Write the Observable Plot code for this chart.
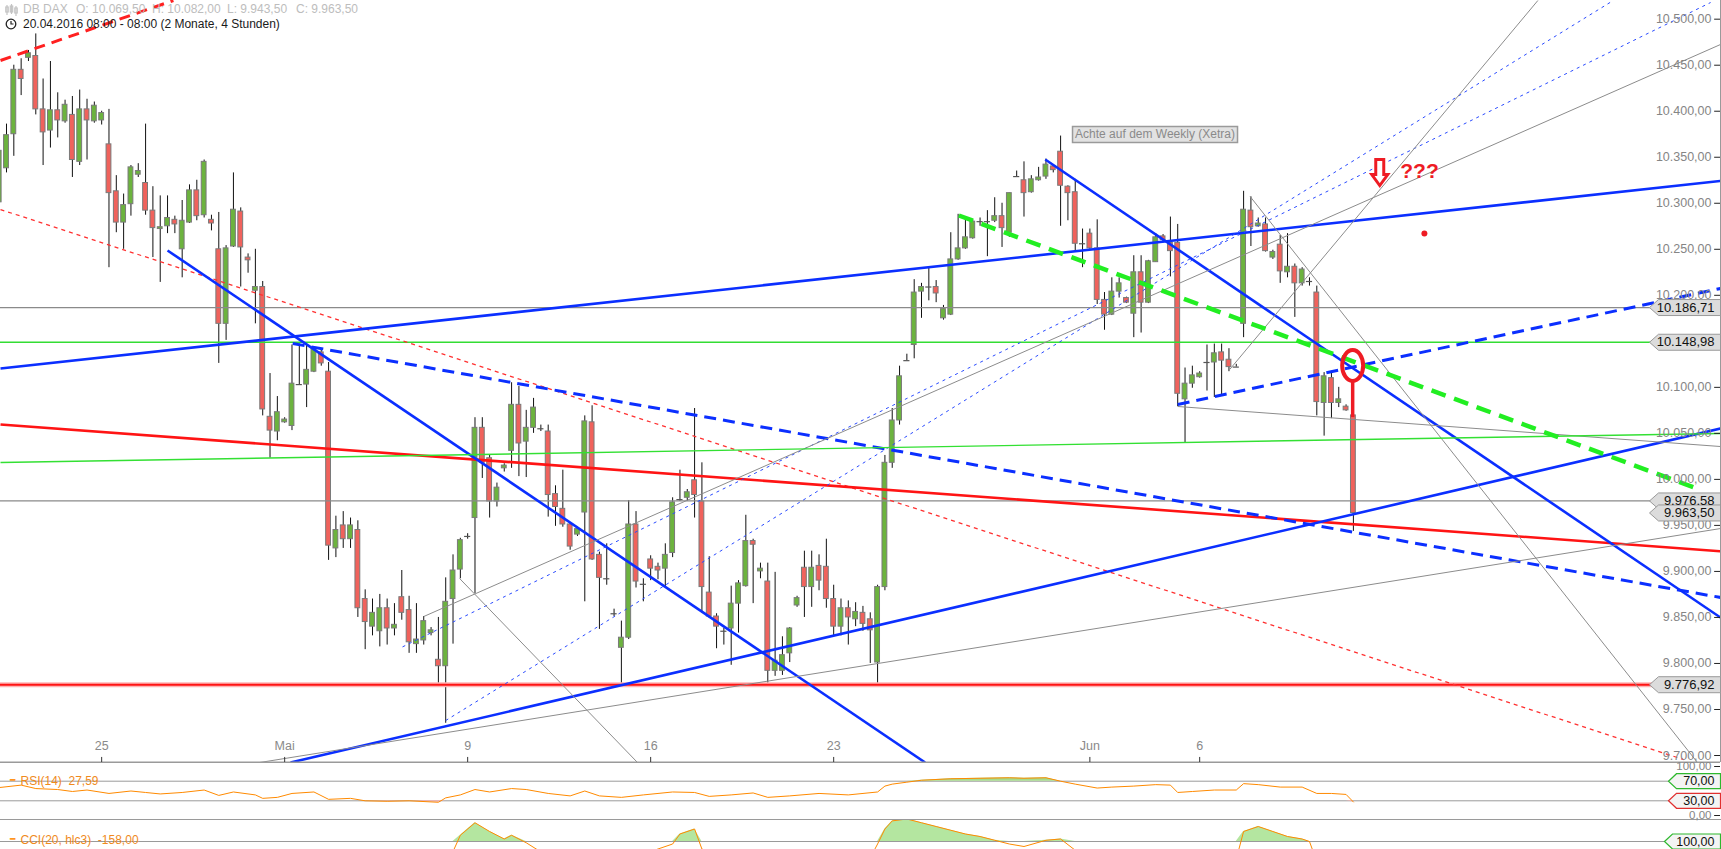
<!DOCTYPE html>
<html><head><meta charset="utf-8">
<script src="https://cdn.jsdelivr.net/npm/d3@7"></script>
<script src="https://cdn.jsdelivr.net/npm/@observablehq/plot@0.6"></script>
<style>
html,body{margin:0;padding:0;background:#fff;}
#wrap{position:relative;width:1721px;height:849px;overflow:hidden;background:#fff;font-family:Arial,"Liberation Sans",sans-serif;}
#wrap svg{display:block;}
#rsi{border-bottom:1px solid #9a9a9a;}
.hd{position:absolute;font-size:12px;white-space:pre;line-height:14px;}
.g{color:#bdbdbd;}
.k{color:#1a1a1a;}
</style></head><body>
<div id="wrap">
  <div id="main"></div>
  <div id="rsi"></div>
  <div id="cci"></div>
  <svg style="position:absolute;left:5px;top:4px" width="13" height="12"><g stroke="#c4c4c4" stroke-width="1.2" fill="none"><line x1="2" y1="1" x2="2" y2="11"/><rect x="0.8" y="3" width="2.4" height="5"/><line x1="6.5" y1="0" x2="6.5" y2="10"/><rect x="5.3" y="2" width="2.4" height="6"/><line x1="11" y1="2" x2="11" y2="12"/><rect x="9.8" y="4" width="2.4" height="5"/></g></svg>
  <div class="hd g" style="left:23px;top:2px">DB DAX</div>
  <div class="hd g" style="left:76px;top:2px">O: 10.069,50</div>
  <div class="hd g" style="left:152px;top:2px">H: 10.082,00</div>
  <div class="hd g" style="left:227px;top:2px">L: 9.943,50</div>
  <div class="hd g" style="left:296px;top:2px">C: 9.963,50</div>
  <svg style="position:absolute;left:5px;top:18px" width="12" height="12"><circle cx="6" cy="6" r="4.8" fill="none" stroke="#222" stroke-width="1.3"/><path d="M6 3 V6 H8.5" fill="none" stroke="#222" stroke-width="1.2"/></svg>
  <div class="hd k" style="left:23px;top:17px">20.04.2016 08:00 - 08:00 (2 Monate, 4 Stunden)</div>
</div>
<script>
// ---------------- DATA ----------------
// candle index k = 0..185 (4h candles, 5 per trading day)
const candleOpen = [10301,10338,10375,10445,10458,10460,10402,10379,10401,10389,10396,10345,10402,10389,10390,10364,10313,10279,10299,10331,10322,10292,10272,10275,10282,10250,10279,10314,10287,10282,10250,10169,10253,10291,10241,10205,10209,10068,10052,10062,10058,10103,10103,10117,10138,10117,
9925,9950,9935,9945,9870,9840,9835,9860,9838,
9872,9858,9821,9825,9833,9804,9797,9870,9902,9938,9958,10056,10023,9976,10012,10031,10081,10041,10056,10055,10052,9984,9968,9951,9940,9964,10062,9918,9892,9854,9817,9828,9951,9886,9913,9905,9903,9920,9978,9980,9999,9976,9877,9851,9835,9838,9865,9884,9933,9900,9889,9792,9792,9811,9863,9904,9883,9906,
9905,9870,9840,9860,9848,9855,9848,
9801,9883,10018,10064,10129,10146,10204,10209,10209,10175,10179,10239,10251,10262,10280,10280,10281,10286,10268,10329,10325,10312,10325,10329,10340,10356,10318,10312,10256,10267,10251,10195,10179,10204,10197,10180,10225,10192,10236,10264,10257,10257,10087,10104,10111,10127,10127,10138,10130,10122,10169,10292,10275,10277,10241,10255,10225,10231,10213,10215,10203,10083,10110,10083,10079,10069.5];
const candleHigh = [10371,10386,10450,10457,10466,10484,10435,10454,10420,10412,10416,10423,10413,10410,10400,10402,10330,10310,10341,10343,10386,10318,10308,10308,10286,10303,10320,10325,10347,10287,10290,10254,10333,10295,10245,10250,10215,10115,10090,10067,10146,10147,10147,10143,10140,10127,
9960,9965,9958,9955,9880,9870,9875,9870,9865,
9901,9873,9865,9851,9839,9850,9893,9918,9936,9941,10067,10067,10027,9996,10017,10105,10101,10075,10088,10059,10059,9993,10010,9952,9948,10069,10080,9921,9930,9859,9846,9977,9965,9892,9917,9909,9930,9980,10010,9989,10077,10018,9916,9854,9838,9884,9890,9961,9935,9909,9909,9899,9829,9839,9873,9922,9922,9918,
9935,9885,9870,9868,9866,9862,9855,
9885,10026,10077,10123,10136,10217,10213,10231,10216,10189,10268,10288,10284,10282,10284,10292,10306,10300,10311,10335,10345,10330,10339,10348,10342,10373,10319,10326,10272,10272,10282,10203,10219,10219,10198,10243,10243,10238,10267,10266,10285,10277,10121,10123,10117,10146,10147,10147,10142,10125,10313,10307,10284,10284,10249,10265,10267,10234,10230,10219,10210,10116,10117,10100,10081,10082];
const candleLow = [10279,10333,10351,10417,10454,10396,10341,10360,10371,10387,10328,10341,10347,10387,10385,10230,10268,10250,10286,10328,10287,10241,10214,10267,10267,10219,10278,10281,10284,10270,10126,10151,10252,10209,10224,10169,10069,10023,10042,10061,10053,10102,10078,10116,10123,9912,
9915,9925,9925,9850,9815,9830,9818,9820,9830,
9847,9811,9811,9820,9830,9775,9735,9821,9892,9935,9876,10001,9958,9970,10008,10012,10003,10002,10050,10052,9959,9949,9948,9923,9938,9867,9912,9837,9885,9851,9775,9826,9882,9867,9890,9891,9882,9915,9976,9976,9958,9855,9849,9816,9820,9798,9833,9883,9865,9892,9775,9786,9787,9801,9861,9850,9861,9879,
9860,9830,9830,9820,9840,9835,9800,
9774,9879,10012,10059,10129,10131,10175,10194,10192,10173,10178,10238,10250,10261,10275,10242,10279,10252,10263,10328,10285,10311,10324,10326,10333,10275,10281,10247,10230,10250,10190,10162,10178,10197,10191,10154,10159,10191,10236,10257,10220,10079,10039,10099,10110,10096,10089,10092,10117,10122,10154,10253,10274,10247,10239,10213,10219,10176,10210,10210,10069,10047,10066,10078,10074,9943.5];
const candleClose = [10357,10374,10445,10435,10463,10402,10377,10401,10390,10407,10347,10402,10390,10406,10398,10311,10279,10298,10339,10335,10292,10273,10274,10284,10277,10281,10314,10286,10345,10278,10169,10251,10293,10252,10238,10209,10076,10053,10073,10065,10104,10103,10119,10142,10126,9928,
9945,9935,9950,9860,9845,9855,9860,9838,9842,
9855,9823,9826,9846,9836,9797,9867,9901,9934,9938,10056,10018,9976,9991,10015,10081,10039,10056,10078,10055,9983,9970,9951,9927,9946,10063,9913,9893,9892,9854,9828,9951,9889,9886,9903,9901,9918,9975,9978,9986,9983,9883,9851,9840,9835,9865,9887,9933,9929,9903,9792,9803,9809,9838,9871,9883,9904,9890,
9870,9840,9860,9850,9856,9843,9836,
9883,10018,10064,10112,10129,10203,10209,10209,10202,10185,10239,10251,10263,10280,10280,10280,10286,10273,10311,10329,10311,10326,10328,10342,10336,10319,10311,10256,10256,10251,10195,10179,10204,10213,10192,10225,10192,10237,10263,10260,10248,10093,10104,10113,10115,10127,10137,10129,10122,10122,10293,10274,10278,10248,10247,10226,10231,10213,10228,10215,10084,10112,10083,10087,10075,9963.5];

const yTickValues = d3.range(9700, 10501, 50);
const xTickIndex  = [14, 39, 64, 89, 114, 149, 164];
const xTickLabels = ["25", "Mai", "9", "16", "23", "Jun", "6"];

const hGreyLevels  = [10186.71, 9976.58];
const hGreenLevels = [10148.98];
const hRedLevels   = [9776.92];

const tagValues = [10186.71, 10148.98, 9976.58, 9963.50, 9776.92];
const tagLabels = ["10.186,71", "10.148,98", "9.976.58", "9.963,50", "9.776,92"];

// trendlines: anchor points in (candle index, price)
const trendlines = [
  {style:"redDashThick", k1:0.18,  p1:10455.1, k2:23.8,   p2:10520.3},
  {style:"redDotted",    k1:0.18,  p1:10293.2, k2:230.1,  p2:9695.6},
  {style:"greenThin",    k1:0.18,  p1:10018.3, k2:235.15, p2:10049.9},
  {style:"redSolid",     k1:0.18,  p1:10059.6, k2:235.15, p2:9921.9},
  {style:"blueSolid",    k1:0.18,  p1:10120.5, k2:235.15, p2:10324.3},
  {style:"blueSolid",    k1:23.0,  p1:10248.7, k2:126.5,  p2:9692.4},
  {style:"blueDash",     k1:40.1,  p1:10147.6, k2:235.15, p2:9871.7},
  {style:"blueSolid",    k1:39.8,  p1:9692.4,  k2:235.15, p2:10055.3},
  {style:"grey",         k1:35.6,  p1:9692.4,  k2:235.15, p2:9946.6},
  {style:"grey",         k1:58.0,  p1:9851.0,  k2:235.15, p2:10472.5},
  {style:"blueDot",      k1:55.1,  p1:9818.0,  k2:233.8,  p2:10518.1},
  {style:"blueDot",      k1:61.0,  p1:9738.0,  k2:220.5,  p2:10520.3},
  {style:"grey",         k1:168.1, p1:10119.4, k2:210.2,  p2:10520.3},
  {style:"grey",         k1:170.9, p1:10307.3, k2:232.0,  p2:9692.4},
  {style:"grey",         k1:62.9,  p1:9892.3,  k2:87.2,   p2:9692.4},
  {style:"grey",         k1:161.0, p1:10079.2, k2:235.15, p2:10035.7},
  {style:"blueDash",     k1:161.0, p1:10081.4, k2:235.15, p2:10207.4},
  {style:"blueSolid",    k1:142.9, p1:10347.5, k2:235.15, p2:9849.9},
  {style:"greenDash",    k1:131.1, p1:10286.7, k2:231.9,  p2:9990.1}
];

// annotations (anchored in candle index / price)
const noteBox   = [{k:157.9, p:10374.7, text:"Achte auf dem Weekly (Xetra)"}];
const ringMark  = [{k:184.9, p:10123.7}];
const ringStem  = [{k:184.9, p1:10106.3, p2:10067.2}];
const arrowMark = [{k:188.6, p:10333.4}];
const qMark     = [{k:191.4, p:10334.5, text:"???"}];
const redDot    = [{k:194.7, p:10267.1}];

// RSI(14)
const rsiK = [0,3,5,8,10,12,15,18,20,22,25,28,30,32,35,36,38,40,43,45,48,50,53,56,60,61,63,65,67,70,72,75,78,80,82,85,88,92,95,97,100,103,105,108,112,116,120,121,122,124,126,130,134,138,140,143,145,147,150,152,155,158,160,161,163,166,169,170,172,175,178,180,182,184,185];
const rsiV = [57,62,55,53,49,52,45,50,47,44,47,52,41,48,42,35,37,45,48,33,35,30,29,30,27,36,42,53,48,55,53,45,40,50,40,37,42,48,47,39,42,46,37,40,45,42,48,60,64,68,72,75,76,77,76,77,70,64,56,58,60,63,62,47,49,52,52,65,63,58,58,45,45,43,27.59];

// CCI(20, hlc3)
const cciK = [0,3,5,10,15,20,25,30,35,40,45,50,55,60,62,63,65,67,69,70,72,75,80,85,88,92,93,95,96,100,105,110,115,119,120,121,122,124,126,128,130,132,134,136,138,140,143,145,147,150,155,160,161,165,169,170,172,174,176,178,179,180,185];
const cciV = [-20,10,-30,-60,-110,-80,-70,-140,-120,-80,-170,-190,-160,-110,20,150,250,180,120,150,90,-20,-10,-60,0,80,160,200,40,-80,-100,-20,-40,-30,80,200,265,280,250,220,190,160,140,110,80,60,110,120,30,-50,-20,0,-140,-80,-40,180,220,180,140,120,100,-60,-158];

// ---------------- BUILD ----------------
const candles = candleOpen.map((o, i) => ({k: i, o, h: candleHigh[i], l: candleLow[i], c: candleClose[i]}));
const upC = candles.filter(d => d.c - d.o >= 1.5);
const dnC = candles.filter(d => d.o - d.c >= 1.5);
const doji = candles.filter(d => Math.abs(d.c - d.o) < 1.5);
const xTicks = xTickIndex.map((k, i) => ({k, label: xTickLabels[i]}));
const tags = tagValues.map((v, i) => ({v, label: tagLabels[i]}));
const rsiData = rsiK.map((k, i) => ({k, v: rsiV[i]}));
const cciData = cciK.map((k, i) => ({k, v: cciV[i]}));

const fmtDE = d3.formatLocale({decimal: ",", thousands: ".", grouping: [3], currency: ["", "€"]}).format(",.2f");

const kL = 0.18, kR = 235.15;        // x scale domain (candle index)
const pBot = 9692.4, pTop = 10520.3; // y scale domain (price)

const styles = {
  redDashThick: {stroke: "#ff2020", strokeWidth: 3, strokeDasharray: "11,7"},
  redDotted:    {stroke: "#ff3030", strokeWidth: 1.3, strokeDasharray: "4,4"},
  redSolid:     {stroke: "#ff1414", strokeWidth: 2.6},
  blueSolid:    {stroke: "#0b2fff", strokeWidth: 2.6},
  blueDash:     {stroke: "#0b2fff", strokeWidth: 3, strokeDasharray: "12,7"},
  blueDot:      {stroke: "#2a4bff", strokeWidth: 1, strokeDasharray: "3,4"},
  grey:         {stroke: "#8c8c8c", strokeWidth: 1},
  greenThin:    {stroke: "#33e033", strokeWidth: 1.4},
  greenDash:    {stroke: "#22ee22", strokeWidth: 4.5, strokeDasharray: "15,9"}
};
const trendMarks = Object.keys(styles).map(s =>
  Plot.link(trendlines.filter(d => d.style === s), {x1: "k1", y1: "p1", x2: "k2", y2: "p2", clip: true, ...styles[s]})
);

function tagSym(w, h, p) {
  return {draw(ctx) { ctx.moveTo(-w, 0); ctx.lineTo(-w + p, -h / 2); ctx.lineTo(0, -h / 2); ctx.lineTo(0, h / 2); ctx.lineTo(-w + p, h / 2); ctx.closePath(); }};
}
function boxSym(w, h) {
  return {draw(ctx) { ctx.moveTo(-w / 2, -h / 2); ctx.lineTo(w / 2, -h / 2); ctx.lineTo(w / 2, h / 2); ctx.lineTo(-w / 2, h / 2); ctx.closePath(); }};
}
function ellSym(rx, ry) {
  const c = 0.5523;
  return {draw(ctx) {
    ctx.moveTo(rx, 0);
    ctx.bezierCurveTo(rx, ry * c, rx * c, ry, 0, ry);
    ctx.bezierCurveTo(-rx * c, ry, -rx, ry * c, -rx, 0);
    ctx.bezierCurveTo(-rx, -ry * c, -rx * c, -ry, 0, -ry);
    ctx.bezierCurveTo(rx * c, -ry, rx, -ry * c, rx, 0);
    ctx.closePath();
  }};
}
const arrowSym = {draw(ctx) {
  ctx.moveTo(-4, -13); ctx.lineTo(4, -13); ctx.lineTo(4, 2); ctx.lineTo(8, 2);
  ctx.lineTo(0, 13); ctx.lineTo(-8, 2); ctx.lineTo(-4, 2); ctx.closePath();
}};

const font = "Arial, 'Liberation Sans', sans-serif";

const main = Plot.plot({
  width: 1721, height: 763,
  marginLeft: 0, marginRight: 1, marginTop: 0, marginBottom: 1,
  x: {type: "linear", domain: [kL, kR], axis: null},
  y: {type: "linear", domain: [pBot, pTop], axis: null},
  style: {fontFamily: font, background: "transparent", overflow: "hidden"},
  marks: [
    // candles
    Plot.ruleX(candles, {x: "k", y1: "l", y2: "h", stroke: "#111", strokeWidth: 1}),
    Plot.rect(upC, {x1: d => d.k - 0.33, x2: d => d.k + 0.33, y1: "o", y2: "c", fill: "#6cb33e", stroke: "#7a7a7a", strokeWidth: 1}),
    Plot.rect(dnC, {x1: d => d.k - 0.33, x2: d => d.k + 0.33, y1: "c", y2: "o", fill: "#f0625c", stroke: "#7a7a7a", strokeWidth: 1}),
    Plot.ruleY(doji, {y: "o", x1: d => d.k - 0.42, x2: d => d.k + 0.42, stroke: "#555", strokeWidth: 1.2}),
    // horizontal levels
    Plot.ruleY(hGreyLevels, {stroke: "#8a8a8a", strokeWidth: 1.3}),
    Plot.ruleY(hGreenLevels, {stroke: "#33dd33", strokeWidth: 1.3}),
    Plot.ruleY(hRedLevels, {stroke: "#ffb4b4", strokeWidth: 5}),
    Plot.ruleY(hRedLevels, {stroke: "#ff1414", strokeWidth: 2}),
    // trend lines
    ...trendMarks,
    // annotations
    Plot.dot(noteBox, {x: "k", y: "p", symbol: boxSym(165, 16), r: 5, fill: "#e2e2e2", stroke: "#9a9a9a", strokeWidth: 1.5}),
    Plot.text(noteBox, {x: "k", y: "p", text: "text", fill: "#8a8a8a", fontSize: 12}),
    Plot.ruleX(ringStem, {x: "k", y1: "p1", y2: "p2", stroke: "#ee1c24", strokeWidth: 3.5}),
    Plot.dot(ringMark, {x: "k", y: "p", symbol: ellSym(10.5, 15.5), r: 5, fill: "none", stroke: "#ee1c24", strokeWidth: 4}),
    Plot.dot(arrowMark, {x: "k", y: "p", symbol: arrowSym, r: 5, fill: "#fff", stroke: "#ee1c24", strokeWidth: 3}),
    Plot.text(qMark, {x: "k", y: "p", text: "text", textAnchor: "start", fill: "#ee1c24", fontSize: 21, fontWeight: "bold"}),
    Plot.dot(redDot, {x: "k", y: "p", r: 3, fill: "#ee1c24", stroke: "none"}),
    // x axis
    Plot.ruleY([pBot], {stroke: "#9a9a9a", strokeWidth: 2}),
    Plot.ruleX(xTicks, {x: "k", y1: pBot, y2: pBot + 5.5, stroke: "#333"}),
    Plot.text(xTicks, {x: "k", text: "label", frameAnchor: "bottom", dy: -13, fill: "#8a8a8a", fontSize: 12.5}),
    // y axis (right, inside)
    Plot.ruleX([kR], {stroke: "#9a9a9a"}),
    Plot.ruleY(yTickValues, {y: d => d, x1: kR - 0.8, x2: kR, stroke: "#222"}),
    Plot.text(yTickValues, {y: d => d, frameAnchor: "right", dx: -9, textAnchor: "end", text: d => fmtDE(d), fill: "#858585", fontSize: 12.5}),
    // price tags
    Plot.dot(tags, {x: () => kR, y: "v", symbol: tagSym(71, 16, 9), r: 5, fill: "#dcdcdc", stroke: "#9a9a9a", strokeWidth: 1}),
    Plot.text(tags, {x: () => kR, y: "v", text: "label", textAnchor: "end", dx: -6, fill: "#111", fontSize: 13})
  ]
});
document.getElementById("main").append(main);

const rsiPlot = Plot.plot({
  width: 1721, height: 56,
  marginLeft: 0, marginRight: 1, marginTop: 3, marginBottom: 4,
  x: {type: "linear", domain: [kL, kR], axis: null},
  y: {type: "linear", domain: [0, 100], axis: null},
  style: {fontFamily: font, background: "transparent", overflow: "visible"},
  marks: [
    Plot.ruleY([70, 30], {stroke: "#9a9a9a"}),
    Plot.areaY(rsiData, {x: "k", y1: 70, y2: d => Math.max(70, d.v), fill: "#a6dc8c"}),
    Plot.areaY(rsiData, {x: "k", y1: 30, y2: d => Math.min(30, d.v), fill: "#f5b3b3"}),
    Plot.line(rsiData, {x: "k", y: "v", stroke: "#ff8a00", strokeWidth: 1}),
    Plot.text(["━"], {frameAnchor: "top-left", dx: 9, dy: 10, fill: "#ff8a00", fontSize: 9}),
    Plot.text(["RSI(14)  27,59"], {frameAnchor: "top-left", dx: 20, dy: 10, textAnchor: "start", fill: "#f08a1c", fontSize: 12}),
    Plot.ruleY([100, 70, 30, 0], {y: d => d, x1: kR - 0.8, x2: kR, stroke: "#222"}),
    Plot.text([100, 0], {y: d => d, frameAnchor: "right", dx: -9, textAnchor: "end", text: d => fmtDE(d), fill: "#858585", fontSize: 11.5}),
    Plot.dot([70], {x: () => kR, y: d => d, symbol: tagSym(52, 15, 8), r: 5, fill: "#f4f4f4", stroke: "#2eb82e", strokeWidth: 1.2}),
    Plot.dot([30], {x: () => kR, y: d => d, symbol: tagSym(52, 15, 8), r: 5, fill: "#f4f4f4", stroke: "#e03030", strokeWidth: 1.2}),
    Plot.text([70, 30], {x: () => kR, y: d => d, text: d => fmtDE(d), textAnchor: "end", dx: -6, fill: "#111", fontSize: 12.5})
  ]
});
document.getElementById("rsi").append(rsiPlot);

const cciPlot = Plot.plot({
  width: 1721, height: 29,
  marginLeft: 0, marginRight: 1, marginTop: 0, marginBottom: 0,
  x: {type: "linear", domain: [kL, kR], axis: null},
  y: {type: "linear", domain: [36, 268], axis: null},
  style: {fontFamily: font, background: "transparent", overflow: "visible"},
  marks: [
    Plot.ruleY([100], {stroke: "#9a9a9a"}),
    Plot.areaY(cciData, {x: "k", y1: 100, y2: d => Math.max(100, d.v), fill: "#b4e6a0", clip: true}),
    Plot.line(cciData, {x: "k", y: "v", stroke: "#ff8a00", strokeWidth: 1, clip: true}),
    Plot.text(["━"], {frameAnchor: "top-left", dx: 9, dy: 15, fill: "#ff8a00", fontSize: 9}),
    Plot.text(["CCI(20, hlc3)  -158,00"], {frameAnchor: "top-left", dx: 20, dy: 15, textAnchor: "start", fill: "#f08a1c", fontSize: 12}),
    Plot.ruleY([100], {y: d => d, x1: kR - 0.8, x2: kR, stroke: "#222"}),
    Plot.dot([100], {x: () => kR, y: d => d, symbol: tagSym(56, 15, 8), r: 5, fill: "#f4f4f4", stroke: "#2eb82e", strokeWidth: 1.2}),
    Plot.text([100], {x: () => kR, y: d => d, text: d => fmtDE(d), textAnchor: "end", dx: -6, fill: "#111", fontSize: 12.5})
  ]
});
document.getElementById("cci").append(cciPlot);
</script>
</body></html>
